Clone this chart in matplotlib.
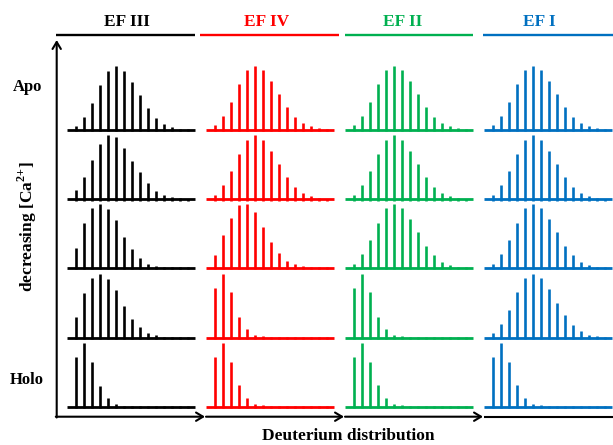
import matplotlib
matplotlib.use('Agg')
import matplotlib.pyplot as plt

plt.rcParams['font.family'] = ['Liberation Serif', 'DejaVu Serif']
plt.rcParams['mathtext.fontset'] = 'custom'
plt.rcParams['mathtext.rm'] = 'Liberation Serif:bold'
plt.rcParams['mathtext.bf'] = 'Liberation Serif:bold'

W, H = 613, 445

columns = ['EF III', 'EF IV', 'EF II', 'EF I']
colors = ['#000000', '#FF0000', '#00B050', '#0070C0']
row_labels = ['Apo', '', '', '', 'Holo']

# relative peak intensity (%) along the deuterium isotope envelope, rows go Apo -> Holo
ef3 = [
    [6, 20, 42, 70, 92, 100, 92, 75, 54, 34, 19, 9, 4, 1.5, 1],
    [14, 35, 62, 86, 100, 98, 80, 60, 42, 25, 13, 6, 3, 1.5, 1],
    [32, 70, 94, 100, 92, 75, 49, 30, 16, 7, 3, 1.5, 1, 1, 1],
    [32, 70, 94, 100, 92, 75, 49, 30, 16, 8, 4, 1.5, 1, 1, 1],
    [77, 100, 70, 33, 13, 4, 1.5, 1, 1, 1, 1, 1, 1, 1, 1],
]
ef4 = [
    [7, 21, 44, 71, 93, 100, 93, 76, 55, 35, 20, 10, 5, 2, 1],
    [7, 22, 44, 71, 93, 100, 93, 76, 55, 35, 19, 10, 5, 2, 1],
    [20, 51, 78, 99, 100, 88, 64, 40, 23, 11, 6, 3, 1.5, 1, 1],
    [78, 100, 71, 33, 13, 5, 2, 1, 1, 1, 1, 1, 1, 1, 1],
    [78, 100, 70, 34, 13, 5, 2, 1, 1, 1, 1, 1, 1, 1, 1],
]
ef2 = [
    [7, 21, 44, 71, 93, 100, 93, 76, 55, 35, 20, 10, 5, 2, 1],
    [7, 22, 44, 71, 93, 100, 93, 76, 55, 35, 19, 10, 5, 2, 1],
    [7, 22, 44, 71, 93, 100, 93, 77, 56, 35, 20, 10, 5, 2, 1],
    [78, 100, 71, 33, 13, 5, 2, 1, 1, 1, 1, 1, 1, 1, 1],
    [78, 100, 70, 34, 13, 5, 2, 1, 1, 1, 1, 1, 1, 1, 1],
]
ef1 = [
    [7, 21, 44, 71, 93, 100, 93, 76, 55, 35, 20, 10, 5, 2, 1],
    [7, 22, 44, 71, 93, 100, 93, 76, 55, 35, 19, 10, 5, 2, 1],
    [7, 22, 44, 71, 93, 100, 93, 77, 56, 35, 20, 10, 5, 2, 1],
    [7, 21, 44, 71, 93, 100, 93, 76, 55, 35, 20, 10, 5, 2, 1],
    [78, 100, 70, 34, 13, 5, 2, 1, 1, 1, 1, 1, 1, 1, 1],
]
data = [ef3, ef4, ef2, ef1]

fig = plt.figure(figsize=(W / 100, H / 100), dpi=100)

col_left = [67, 205.5, 344.5, 484]
row_base = [129.7, 199.3, 268, 337.7, 406.7]
cell_w, cell_h = 128, 69

for c in range(4):
    for r in range(5):
        ax = fig.add_axes([col_left[c] / W, 1 - row_base[r] / H, cell_w / W, cell_h / H])
        vals = data[c][r]
        x = list(range(len(vals)))
        ax.set_xlim(-1.15, 14.85)
        ax.set_ylim(0, 100 * 69 / 64)
        ax.vlines(x, -2, vals, color=colors[c], lw=1.9, clip_on=False)
        ax.plot([-1.15, 14.85], [0, 0], color=colors[c], lw=2.0,
                solid_capstyle='butt', clip_on=False)
        ax.axis('off')

# overlay in pixel units for labels and arrows
ov = fig.add_axes([0, 0, 1, 1])
ov.set_xlim(0, W)
ov.set_ylim(H, 0)
ov.axis('off')

head_x = [127, 267, 403, 539]
line_span = [(56, 195), (200, 339), (345, 473), (483, 613)]
for c in range(4):
    ov.text(head_x[c], 22, columns[c], color=colors[c], fontsize=12.5,
            fontweight='bold', ha='center', va='center')
    ov.plot(line_span[c], [35, 35], color=colors[c], lw=1.7, solid_capstyle='butt')

ov.text(28, 87, row_labels[0], fontsize=12, fontweight='bold', ha='center', va='center')
ov.text(27, 380, row_labels[4], fontsize=12, fontweight='bold', ha='center', va='center')
ov.text(27, 227, r'decreasing [Ca$^{\mathbf{2{+}}}$]', fontsize=12.5, fontweight='bold',
        rotation=90, ha='center', va='center')
ov.text(348, 436, 'Deuterium distribution', fontsize=12.5, fontweight='bold',
        ha='center', va='center')

arr = dict(arrowstyle='->,head_length=0.5,head_width=0.3', color='black', lw=1.5,
           shrinkA=0, shrinkB=0)
ov.annotate('', xy=(56.7, 40), xytext=(56.7, 417.5), arrowprops=arr)
for x0, x1 in [(55.8, 205), (206, 344), (345, 483)]:
    ov.annotate('', xy=(x1, 416.7), xytext=(x0, 416.7), arrowprops=arr)
ov.plot([484, 613], [416.7, 416.7], color='black', lw=1.5, solid_capstyle='butt')

fig.savefig('out.png', dpi=100)
